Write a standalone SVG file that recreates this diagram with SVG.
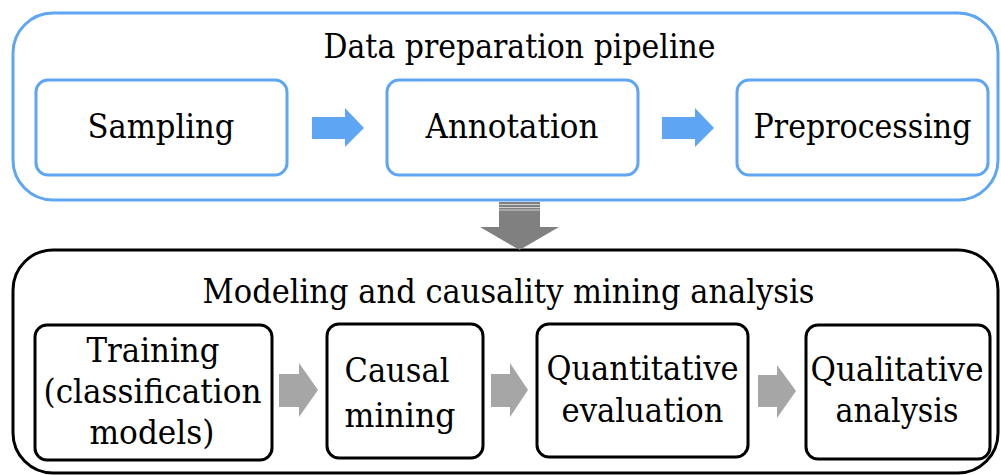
<svg xmlns="http://www.w3.org/2000/svg" width="1001" height="475" viewBox="0 0 1001 475">
  <style>
    .txt { font-family: 'DejaVu Serif', 'Liberation Serif', serif; font-size: 34px; fill: #000; text-anchor: middle; }
    .stage-blue { fill: #fff; stroke: #5ea6f4; stroke-width: 3; }
    .stage-black { fill: #fff; stroke: #000; stroke-width: 3; }
    .box-blue { fill: #fff; stroke: #5ea6f4; stroke-width: 3; }
    .box-black { fill: #fff; stroke: #000; stroke-width: 3; }
    .arrow-blue { fill: #5ea6f4; }
    .arrow-gray { fill: #a6a6a6; }
    .arrow-down { fill: #808080; }
  </style>
  <rect width="1001" height="475" fill="#fff"/>

  <!-- Stage 1: data preparation -->
  <g id="stage-data-preparation">
    <rect class="stage-blue" x="13" y="13" width="985" height="187" rx="40" ry="40"/>
    <text class="txt" x="519.5" y="58" textLength="392" lengthAdjust="spacingAndGlyphs">Data preparation pipeline</text>
  </g>
  <g id="node-sampling">
    <rect class="box-blue" x="36" y="80" width="251" height="95" rx="12" ry="12"/>
    <text class="txt" x="161" y="138" textLength="147" lengthAdjust="spacingAndGlyphs">Sampling</text>
  </g>
  <g id="node-annotation">
    <rect class="box-blue" x="387" y="80" width="251" height="95" rx="12" ry="12"/>
    <text class="txt" x="512" y="138" textLength="173" lengthAdjust="spacingAndGlyphs">Annotation</text>
  </g>
  <g id="node-preprocessing">
    <rect class="box-blue" x="737" y="80" width="251" height="95" rx="12" ry="12"/>
    <text class="txt" x="862.5" y="138" textLength="218" lengthAdjust="spacingAndGlyphs">Preprocessing</text>
  </g>

  <!-- Stage 2: modeling and causality mining -->
  <g id="stage-modeling">
    <rect class="stage-black" x="13" y="250" width="985" height="223" rx="40" ry="40"/>
    <text class="txt" x="508.5" y="303" textLength="612" lengthAdjust="spacingAndGlyphs">Modeling and causality mining analysis</text>
  </g>
  <g id="node-training">
    <rect class="box-black" x="35" y="325" width="237" height="135" rx="12" ry="12"/>
    <text class="txt" x="153" y="362" textLength="133" lengthAdjust="spacingAndGlyphs">Training</text>
    <text class="txt" x="152.5" y="403" textLength="218" lengthAdjust="spacingAndGlyphs">(classification</text>
    <text class="txt" x="152" y="444" textLength="125" lengthAdjust="spacingAndGlyphs">models)</text>
  </g>
  <g id="node-causal-mining">
    <rect class="box-black" x="327" y="324" width="156" height="134" rx="12" ry="12"/>
    <text class="txt" x="397" y="382" textLength="105" lengthAdjust="spacingAndGlyphs">Causal</text>
    <text class="txt" x="400" y="427" textLength="111" lengthAdjust="spacingAndGlyphs">mining</text>
  </g>
  <g id="node-quantitative">
    <rect class="box-black" x="537" y="324" width="211" height="133" rx="12" ry="12"/>
    <text class="txt" x="642.5" y="380" textLength="192" lengthAdjust="spacingAndGlyphs">Quantitative</text>
    <text class="txt" x="642.5" y="422" textLength="162" lengthAdjust="spacingAndGlyphs">evaluation</text>
  </g>
  <g id="node-qualitative">
    <rect class="box-black" x="806" y="325" width="184" height="134" rx="12" ry="12"/>
    <text class="txt" x="897" y="381" textLength="173" lengthAdjust="spacingAndGlyphs">Qualitative</text>
    <text class="txt" x="897" y="422" textLength="123" lengthAdjust="spacingAndGlyphs">analysis</text>
  </g>

  <!-- Connectors -->
  <g id="connectors">
    <polygon class="arrow-blue" points="312,117 345,117 345,108 364,128 345,147 345,139 312,139"/>
    <polygon class="arrow-blue" points="662,117 695,117 695,108 714,128 695,147 695,139 662,139"/>

    <polygon class="arrow-down" points="499,202 540,202 540,227 559,227 519.5,250 480,227 499,227"/>
    <g stroke="#d0d0d0" stroke-width="1">
      <line x1="499" y1="204.5" x2="540" y2="204.5"/>
      <line x1="499" y1="207.5" x2="540" y2="207.5"/>
      <line x1="499" y1="210" x2="540" y2="210"/>
    </g>

    <polygon class="arrow-gray" points="279,374 299,374 299,363 318,390 299,417 299,407 279,407"/>
    <polygon class="arrow-gray" points="491,374 510,374 510,363 528,390 510,417 510,407 491,407"/>
    <polygon class="arrow-gray" points="758,375 777,375 777,365 796,391 777,418 777,407 758,407"/>
  </g>
</svg>
